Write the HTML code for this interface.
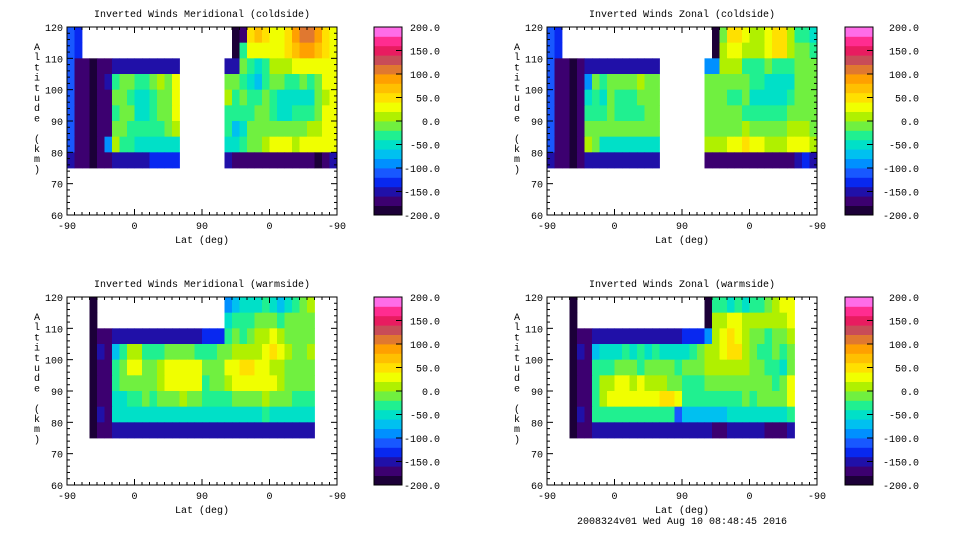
<!DOCTYPE html>
<html><head><meta charset="utf-8">
<style>
html,body{margin:0;padding:0;background:#fff;}
svg{display:block;font-family:"Liberation Mono","DejaVu Sans Mono",monospace;font-size:10px;}
</style></head>
<body>
<svg id="fig" width="960" height="540" viewBox="0 0 960 540" xmlns="http://www.w3.org/2000/svg">
<text x="682" y="524" text-anchor="middle">2008324v01 Wed Aug 10 08:48:45 2016</text>
</svg>
<script>
const N = null;
// altitude band centers (km), top to bottom
const altCenters = [117.5,112.5,107.5,102.5,97.5,92.5,87.5,82.5,77.5];
// latitude-track position of column starts (deg along -90..90..-90 track, 0..360)
const trackStarts = [0,10,20,30,40,50,60,70,80,90,100,110,120,130,140,150,160,170,180,190,200,210,220,230,240,250,260,270,280,290,300,310,320,330,340,350];
const xTickLabels = ["-90","0","90","0","-90"];
const yTickLabels = [60,70,80,90,100,110,120];
const cbarLabels = ["200.0","150.0","100.0","50.0","0.0","-50.0","-100.0","-150.0","-200.0"];
// values in units of 10 m/s
const p1Rows = [
[-12,-14,N,N,N,N,N,N,N,N,N,N,N,N,N,N,N,N,N,N,N,N,-20,-17,5,7,4,3,3,5,9,11,11,8,4,3],
[-12,-14,N,N,N,N,N,N,N,N,N,N,N,N,N,N,N,N,N,N,N,N,-20,-4,2,2,2,2,3,5,7,9,9,6,4,3],
[-12,-18,-17,-20,-18,-17,-16,-16,-16,-16,-16,-16,-16,-16,-16,N,N,N,N,N,N,-15,-15,-2,-3,-5,-3,0,0,1,2,3,3,3,3,3],
[-12,-18,-18,-20,-18,-16,-3,-2,-2,-3,-3,-2,0,-1,2,N,N,N,N,N,N,-1,-2,-3,-5,-7,-4,-2,-2,-3,-3,-2,-3,-1,2,2],
[-12,-18,-18,-20,-18,-18,-2,-1,-3,-5,-5,-3,-2,-1,2,N,N,N,N,N,N,0,-3,-2,-3,-3,-2,-4,-5,-5,-5,-5,-5,-2,1,2],
[-12,-18,-18,-20,-18,-18,-3,-2,-2,-5,-5,-4,-2,-1,2,N,N,N,N,N,N,-4,-4,-3,-3,-2,-2,-3,-5,-5,-4,-4,-3,-1,2,2],
[-12,-18,-18,-20,-18,-18,-1,-1,-3,-4,-4,-3,-3,-2,1,N,N,N,N,N,N,-3,-8,-5,-2,-2,-1,-1,-2,-2,-1,-1,0,1,3,3],
[-12,-18,-18,-20,-18,-10,0,-3,-4,-5,-5,-6,-6,-6,-6,N,N,N,N,N,N,-6,-6,-4,-2,-1,0,3,3,2,1,2,3,3,3,2],
[-15,-18,-18,-20,-18,-17,-15,-16,-16,-16,-15,-14,-14,-14,-14,N,N,N,N,N,N,-16,-17,-17,-17,-17,-17,-17,-17,-17,-18,-18,-17,-19,-18,-15]
];
const p2Rows = [
[-12,-14,N,N,N,N,N,N,N,N,N,N,N,N,N,N,N,N,N,N,N,N,-20,-1,4,4,3,1,1,3,5,5,1,-4,-4,-5],
[-12,-14,N,N,N,N,N,N,N,N,N,N,N,N,N,N,N,N,N,N,N,N,-20,1,3,3,1,0,0,3,4,4,0,-2,-2,-4],
[-12,-18,-18,-19,-18,-15,-15,-15,-15,-15,-15,-15,-15,-15,-15,N,N,N,N,N,N,-10,-10,0,1,1,-4,-4,-4,-1,-3,-3,-3,-1,-1,-2],
[-12,-18,-18,-19,-18,-10,-2,-3,-2,-2,-2,-1,1,-1,-1,N,N,N,N,N,N,-2,-2,-1,-1,-1,-2,-3,-3,-5,-6,-6,-5,-2,-2,-2],
[-12,-18,-18,-19,-18,-6,-4,-5,-2,-3,-4,-3,-2,-2,-1,N,N,N,N,N,N,-2,-2,-2,-3,-3,-2,-5,-5,-6,-6,-6,-4,-2,-2,-1],
[-12,-18,-18,-19,-18,-4,-3,-4,-2,-3,-4,-4,-3,-2,-1,N,N,N,N,N,N,-1,-1,-2,-2,-2,-3,-3,-3,-4,-3,-3,-2,-2,-2,-1],
[-12,-18,-18,-19,-18,-2,-2,-2,-1,-2,-2,-2,-1,-1,-1,N,N,N,N,N,N,-2,-2,-1,-1,-1,0,-1,-1,-2,-2,-2,0,0,0,-1],
[-12,-18,-18,-19,-18,0,-1,-5,-5,-5,-5,-5,-5,-5,-5,N,N,N,N,N,N,0,0,1,3,3,4,3,3,1,0,0,2,2,2,0],
[-15,-18,-18,-19,-18,-16,-16,-16,-16,-16,-16,-16,-16,-16,-16,N,N,N,N,N,N,-17,-17,-17,-17,-17,-17,-17,-17,-17,-17,-17,-17,-16,-14,-16]
];
const p3Rows = [
[N,N,N,-20,N,N,N,N,N,N,N,N,N,N,N,N,N,N,N,N,N,-10,-8,-6,-6,-5,-4,-6,-8,-5,-3,-1,0,N,N,N],
[N,N,N,-20,N,N,N,N,N,N,N,N,N,N,N,N,N,N,N,N,N,-6,-4,-3,-3,-2,-1,-2,-3,-2,-1,-1,-1,N,N,N],
[N,N,N,-20,-17,-17,-15,-15,-15,-15,-15,-15,-15,-15,-15,-15,-15,-15,-14,-14,-14,-3,-2,-3,-1,0,1,2,1,-1,-1,-2,-1,N,N,N],
[N,N,N,-20,-16,-17,-8,-4,1,1,-3,-4,-3,-2,-2,-1,-1,-4,-4,-3,-2,-1,1,0,1,1,3,4,3,0,-1,-1,0,N,N,N],
[N,N,N,-20,-17,-18,-4,-2,2,2,-2,-2,0,2,2,2,3,3,-2,-1,-1,2,3,4,4,3,2,1,0,-1,-2,-2,-1,N,N,N],
[N,N,N,-20,-17,-18,-4,-2,-1,-1,-2,-2,0,2,2,2,3,2,-3,-2,-1,0,2,3,3,3,3,2,0,-2,-2,-2,-2,N,N,N],
[N,N,N,-20,-17,-18,-5,-5,-3,-3,-2,-3,-2,-1,-1,0,-1,-1,-4,-3,-3,-3,-2,-1,-1,-1,0,-1,-2,-2,-3,-3,-3,N,N,N],
[N,N,N,-20,-16,-18,-6,-6,-6,-5,-5,-6,-6,-6,-6,-5,-5,-5,-6,-6,-6,-6,-6,-5,-5,-5,-4,-5,-5,-6,-6,-6,-6,N,N,N],
[N,N,N,-20,-17,-17,-15,-15,-15,-15,-15,-15,-15,-15,-15,-15,-15,-15,-16,-16,-16,-16,-16,-16,-16,-16,-16,-16,-16,-16,-16,-16,-15,N,N,N]
];
const p4Rows = [
[N,N,N,-20,N,N,N,N,N,N,N,N,N,N,N,N,N,N,N,N,N,-20,-4,-4,-5,-4,-5,-4,-3,-2,0,2,3,N,N,N],
[N,N,N,-20,N,N,N,N,N,N,N,N,N,N,N,N,N,N,N,N,N,-20,1,1,2,2,1,0,0,0,1,1,3,N,N,N],
[N,N,N,-20,-17,-17,-15,-15,-15,-15,-15,-15,-15,-15,-15,-15,-15,-15,-14,-14,-14,-10,1,3,4,3,1,-1,-2,-3,-1,-2,1,N,N,N],
[N,N,N,-20,-16,-17,-8,-6,-5,-5,-4,-5,-4,-5,-4,-5,-5,-5,-6,-3,-2,0,1,3,4,4,1,-2,-3,-4,-2,-4,-2,N,N,N],
[N,N,N,-20,-17,-18,-4,-3,-3,-2,-2,-2,-3,-2,-2,-2,-2,-3,-2,-2,-2,0,0,1,1,1,0,-2,-2,-3,-3,-5,-2,N,N,N],
[N,N,N,-20,-17,-18,-3,0,1,2,2,1,2,1,1,1,-1,-2,-3,-3,-3,-2,-2,-2,-2,-2,-2,-2,-1,-2,-3,-2,2,N,N,N],
[N,N,N,-20,-17,-18,-4,0,2,2,3,2,2,3,2,4,4,2,-3,-3,-3,-3,-4,-4,-3,-4,-2,-3,-1,-1,-2,-1,3,N,N,N],
[N,N,N,-20,-16,-18,-4,-4,-4,-4,-4,-4,-4,-4,-4,-4,-4,-12,-7,-7,-7,-7,-7,-7,-6,-6,-5,-6,-5,-6,-6,-5,-4,N,N,N],
[N,N,N,-20,-17,-17,-16,-16,-16,-16,-16,-16,-16,-16,-16,-16,-16,-16,-16,-16,-16,-16,-17,-17,-16,-16,-16,-16,-16,-17,-17,-17,-16,N,N,N]
];
const panelTitles = ["Inverted Winds Meridional (coldside)","Inverted Winds Zonal (coldside)","Inverted Winds Meridional (warmside)","Inverted Winds Zonal (warmside)"];

const palette = ["#1c0038","#3c0070","#2010a8","#0828f0","#1858ff","#0090ff","#00c0f0","#00e0c8","#20f090","#70f040","#b0f000","#f0ff00","#ffe000","#ffc000","#ffa000","#e07830","#c84c58","#e81c60","#ff2c90","#ff6ce8"];
const NS = "http://www.w3.org/2000/svg";
const svg = document.getElementById("fig");
function mk(tag, attrs, parent){const e=document.createElementNS(NS,tag);for(const k in attrs)e.setAttribute(k,attrs[k]);(parent||svg).appendChild(e);return e;}
function colorFor(v){let i=Math.floor((v*10+200)/20);if(i<0)i=0;if(i>19)i=19;return palette[i];}

const PW=270, PH=188;
const layouts=[{x0:67,y0:27,cb:374,lab:440},{x0:547,y0:27,cb:845,lab:919},{x0:67,y0:297,cb:374,lab:440},{x0:547,y0:297,cb:845,lab:919}];
const allRows=[p1Rows,p2Rows,p3Rows,p4Rows];

layouts.forEach((L,pi)=>{
  const xs=u=>L.x0+u*PW/360;
  const ys=a=>L.y0+(120-a)*PH/60;
  const g=mk("g",{});
  
  
  const t=mk("text",{x:L.x0+PW/2,y:L.y0-10,"text-anchor":"middle"},g);
  t.textContent=panelTitles[pi];
  
  
  const cells=mk("g",{},g);
  
  
  const rows=allRows[pi];
  rows.forEach((row,ri)=>{
    const a=altCenters[ri];
    row.forEach((v,ci)=>{
      if(v===null)return;
      const u=trackStarts[ci];
      const x1=xs(u),x2=xs(u+10),y1=ys(a+2.5),y2=ys(a-2.5);
      const r=mk("rect",{x:x1,y:y1,width:x2-x1+0.4,height:y2-y1+0.4,fill:colorFor(v)},cells);
      
      
    });
  });
  // frame
  const fr=mk("rect",{x:L.x0,y:L.y0,width:PW,height:PH,fill:"none",stroke:"#000","stroke-width":1},g);
  
  
  // y ticks
  for(let a=60;a<=120;a+=2){
    const y=ys(a);const major=(a%10===0);const len=major?6:3;
    mk("line",{x1:L.x0,y1:y,x2:L.x0+len,y2:y,stroke:"#000"},g);
    mk("line",{x1:L.x0+PW,y1:y,x2:L.x0+PW-len,y2:y,stroke:"#000"},g);
  }
  yTickLabels.forEach(a=>{
    const tl=mk("text",{x:L.x0-4,y:ys(a)+4,"text-anchor":"end"},g);
    tl.textContent=a;
    
    
  });
  // x ticks
  for(let u=0;u<=360;u+=10){
    const x=xs(u);const major=(u%90===0);const len=major?6:3;
    mk("line",{x1:x,y1:L.y0+PH,x2:x,y2:L.y0+PH-len,stroke:"#000"},g);
    mk("line",{x1:x,y1:L.y0,x2:x,y2:L.y0+len,stroke:"#000"},g);
  }
  xTickLabels.forEach((lb,i)=>{
    const tl=mk("text",{x:xs(i*90),y:L.y0+PH+14,"text-anchor":"middle"},g);
    tl.textContent=lb;
    
    
  });
  const xt=mk("text",{x:L.x0+PW/2,y:L.y0+PH+28,"text-anchor":"middle"},g);
  xt.textContent="Lat (deg)";
  
  
  const yt=mk("text",{x:L.x0-30,y:L.y0+23,"text-anchor":"middle"},g);
  
  
  const chars="Altitude (km)".split("");
  chars.forEach((c,i)=>{const ts=mk("tspan",{x:L.x0-30,y:L.y0+23+i*10.2},yt);ts.textContent=c;});
  // colorbar
  const cbg=mk("g",{},g);
  
  
  const bh=PH/20;
  palette.forEach((c,i)=>{
    const r=mk("rect",{x:L.cb,y:L.y0+PH-(i+1)*bh,width:28,height:bh+0.4,fill:c},cbg);
    
    
  });
  mk("rect",{x:L.cb,y:L.y0,width:28,height:PH,fill:"none",stroke:"#000"},cbg);
  cbarLabels.forEach((lb,i)=>{
    const y=L.y0+i*PH/8;
    mk("line",{x1:L.cb+22,y1:y,x2:L.cb+28,y2:y,stroke:"#000"},cbg);
    const tl=mk("text",{x:L.lab,y:y+4,"text-anchor":"end"},cbg);
    tl.textContent=lb;
    
    
  });
});
</script>
</body></html>
